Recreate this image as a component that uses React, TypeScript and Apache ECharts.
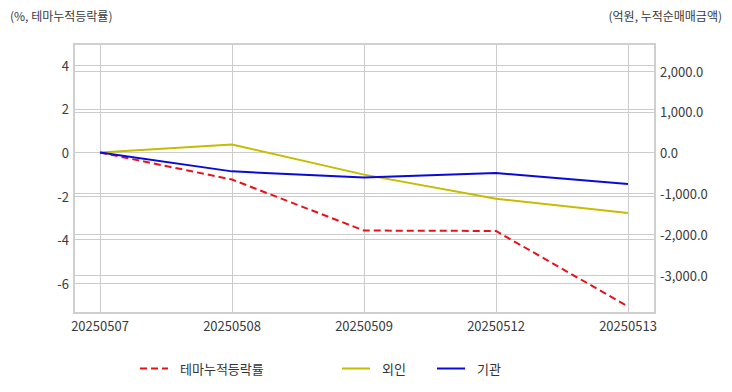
import React, { useEffect, useRef } from "react";
import * as echarts from "echarts";

const categories = ["20250507", "20250508", "20250509", "20250512", "20250513"];
const themeReturn = [0, -1.24, -3.58, -3.6, -7.06];
const foreignNet = [0, 200, -540, -1130, -1480];
const institutionNet = [0, -460, -610, -500, -770];
const leftTitle = "(%, 테마누적등락률)";
const rightTitle = "(억원, 누적순매매금액)";
const seriesNames = ["테마누적등락률", "외인", "기관"];

const FONT = "'Noto Sans CJK KR', 'Noto Sans', sans-serif";
const TEXT = "#3a3a3a";
const GRIDC = "#cccccc";

export default function App() {
  const ref = useRef<HTMLDivElement>(null);
  useEffect(() => {
    if (!ref.current) return;
    const chart = echarts.init(ref.current, null, { renderer: "svg" });
    const xPad: any = { type: "value", min: -0.197, max: 4.205, show: false };
    const legendBase = (name: string, left: number) => ({
      data: [name],
      left,
      top: 357,
      itemWidth: 28,
      itemHeight: 14,
      itemStyle: { opacity: 0 },
      textStyle: { fontFamily: FONT, fontSize: 13, color: "#333", padding: [0, 0, 0, 7] },
    });
    chart.setOption({
      animation: false,
      textStyle: { fontFamily: FONT },
      grid: [
        { left: 100, right: 104, top: 44, bottom: 79 },
        { left: 74, right: 77, top: 65.3, bottom: 108.7 },
        { left: 74, right: 77, top: 71, bottom: 117 },
      ],
      xAxis: [
        {
          type: "category",
          gridIndex: 0,
          data: categories,
          boundaryGap: false,
          axisLine: { show: false },
          axisTick: { show: false },
          splitLine: { show: true, lineStyle: { color: GRIDC, width: 1 } },
          axisLabel: { color: TEXT, fontSize: 13, margin: 6, fontFamily: FONT },
        },
        { ...xPad, gridIndex: 1 },
        { ...xPad, gridIndex: 2 },
      ],
      yAxis: [
        { type: "value", gridIndex: 0, show: false },
        {
          type: "value",
          gridIndex: 1,
          min: -6,
          max: 4,
          interval: 2,
          axisLine: { show: false },
          axisTick: { show: false },
          splitLine: { show: true, lineStyle: { color: GRIDC, width: 1 } },
          axisLabel: { color: TEXT, fontSize: 13, margin: 5, fontFamily: FONT },
        },
        {
          type: "value",
          gridIndex: 2,
          position: "right",
          min: -3000,
          max: 2000,
          interval: 1000,
          axisLine: { show: false },
          axisTick: { show: false },
          splitLine: { show: true, lineStyle: { color: GRIDC, width: 1 } },
          axisLabel: {
            color: TEXT,
            fontSize: 13,
            margin: 5,
            fontFamily: FONT,
            formatter: (v: number) =>
              v.toLocaleString("en-US", { minimumFractionDigits: 1, maximumFractionDigits: 1 }),
          },
        },
      ],
      legend: [
        legendBase(seriesNames[0], 134),
        legendBase(seriesNames[1], 336),
        legendBase(seriesNames[2], 431),
      ],
      series: [
        {
          name: seriesNames[0],
          type: "line",
          xAxisIndex: 1,
          yAxisIndex: 1,
          data: themeReturn.map((v, i) => [i, v]),
          symbol: "none",
          clip: false,
          z: 3,
          lineStyle: { color: "#e8121b", width: 2, type: [7, 4] },
          itemStyle: { color: "#e8121b" },
        },
        {
          name: seriesNames[1],
          type: "line",
          xAxisIndex: 2,
          yAxisIndex: 2,
          data: foreignNet.map((v, i) => [i, v]),
          symbol: "none",
          clip: false,
          z: 2,
          lineStyle: { color: "#c4bd00", width: 2 },
          itemStyle: { color: "#c4bd00" },
        },
        {
          name: seriesNames[2],
          type: "line",
          xAxisIndex: 2,
          yAxisIndex: 2,
          data: institutionNet.map((v, i) => [i, v]),
          symbol: "none",
          clip: false,
          z: 4,
          lineStyle: { color: "#0a0ad8", width: 2 },
          itemStyle: { color: "#0a0ad8" },
        },
      ],
      graphic: [
        {
          type: "rect",
          shape: { x: 74, y: 44, width: 581, height: 269 },
          style: { fill: "none", stroke: "#cfcfcf", lineWidth: 2 },
          z: 1,
        },
        {
          type: "text",
          left: 10,
          top: 9,
          style: { text: leftTitle, fontSize: 12, fill: TEXT, fontFamily: FONT },
        },
        {
          type: "text",
          right: 10,
          top: 9,
          style: { text: rightTitle, fontSize: 12, fill: TEXT, fontFamily: FONT },
        },
      ],
    });
    return () => chart.dispose();
  }, []);
  return (
    <div
      ref={ref}
      style={{ position: "fixed", left: 0, top: 0, width: 732, height: 392, background: "#fff" }}
    />
  );
}
